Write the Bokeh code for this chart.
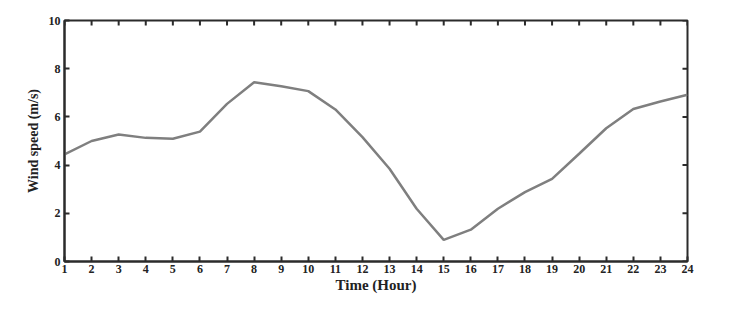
import math
from bokeh.plotting import figure
from bokeh.models import FixedTicker, Range1d
from bokeh.embed import file_html
from bokeh.resources import INLINE

hours = list(range(1, 25))
wind_speed = [4.44, 5.0, 5.27, 5.13, 5.09, 5.39, 6.54, 7.44, 7.27, 7.07, 6.31, 5.16,
              3.85, 2.19, 0.9, 1.32, 2.19, 2.88, 3.43, 4.47, 5.53, 6.33, 6.64, 6.92]
x_ticks = list(range(1, 25))
y_ticks = [0, 2, 4, 6, 8, 10]
x_min, x_max = 1, 24
y_min, y_max = 0, 10

p = figure(width=713, height=295, output_backend="svg", toolbar_location=None,
           x_range=Range1d(x_min, x_max), y_range=Range1d(y_min, y_max),
           min_border_left=64, min_border_right=26, min_border_top=20, min_border_bottom=34)
p.background_fill_color = "white"
p.border_fill_color = "white"
p.xgrid.visible = False
p.ygrid.visible = False
p.outline_line_color = "#2b2b2b"
p.outline_line_width = 2

p.line(hours, wind_speed, line_color="#7f7f7f", line_width=2.5)

# mirrored inward ticks on top and right edges (half of each dash is clipped by the frame)
p.scatter(x_ticks, [y_max] * len(x_ticks), marker="dash", size=10, angle=math.pi / 2,
          line_color="#2b2b2b", line_width=2)
p.scatter([x_max] * len(y_ticks), y_ticks, marker="dash", size=10, angle=0,
          line_color="#2b2b2b", line_width=2)

FONT = "Liberation Serif"

def style(ax):
    ax.axis_line_color = "#2b2b2b"
    ax.axis_line_width = 2
    ax.major_tick_line_color = "#2b2b2b"
    ax.major_tick_line_width = 2
    ax.major_tick_in = 5
    ax.major_tick_out = 0
    ax.minor_tick_line_color = None
    ax.major_label_text_font = FONT
    ax.major_label_text_font_style = "bold"
    ax.major_label_text_font_size = "12px"
    ax.major_label_text_color = "#222222"
    ax.axis_label_text_font = FONT
    ax.axis_label_text_font_style = "bold"
    ax.axis_label_text_color = "#222222"

xa = p.xaxis[0]
xa.ticker = FixedTicker(ticks=x_ticks)
xa.axis_label = "Time (Hour)"
style(xa)
xa.axis_label_text_font_size = "15px"
xa.major_label_standoff = 3
xa.axis_label_standoff = 1

ya = p.yaxis[0]
ya.ticker = FixedTicker(ticks=y_ticks)
ya.axis_label = "Wind speed (m/s)"
style(ya)
ya.axis_label_text_font_size = "14px"
ya.major_label_standoff = 4
ya.axis_label_standoff = 5

open("out.html", "w").write(file_html(p, INLINE))
